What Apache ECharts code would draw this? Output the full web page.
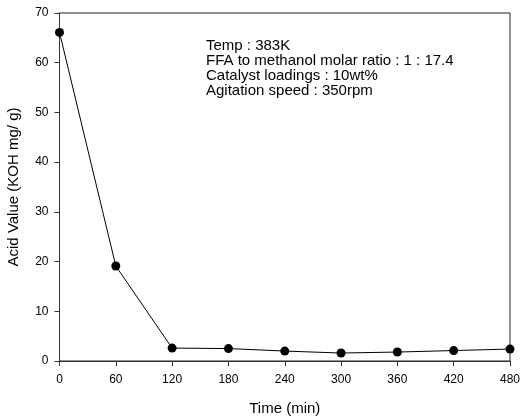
<!DOCTYPE html>
<html>
<head>
<meta charset="utf-8">
<script src="https://cdn.jsdelivr.net/npm/echarts@6/dist/echarts.min.js"></script>
<style>
  html, body { margin: 0; padding: 0; background: #fff; }
  #chart { width: 520px; height: 419px; }
</style>
</head>
<body>
<div id="chart"></div>
<script>
// Reaction time (min) and measured acid value (KOH mg/g)
const timeMin = [0, 60, 120, 180, 240, 300, 360, 420, 480];
const acidValue = [66.1, 19.1, 2.6, 2.5, 2.0, 1.6, 1.8, 2.1, 2.4];
const xTicks = [0, 60, 120, 180, 240, 300, 360, 420, 480];
const yTicks = [0, 10, 20, 30, 40, 50, 60, 70];
const conditions = [
  'Temp : 383K',
  'FFA to methanol molar ratio : 1 : 17.4',
  'Catalyst loadings : 10wt%',
  'Agitation speed : 350rpm'
];

const FONT = '"Liberation Sans", Arial, sans-serif';
const chart = echarts.init(document.getElementById('chart'));

chart.setOption({
  animation: false,
  backgroundColor: '#ffffff',
  textStyle: { fontFamily: FONT },
  grid: {
    left: 59.5, right: 10, top: 13, bottom: 58,
    containLabel: false, outerBoundsMode: 'none',
    show: true, borderColor: '#222', borderWidth: 1
  },
  xAxis: {
    type: 'value',
    min: xTicks[0], max: xTicks[xTicks.length - 1], interval: 60,
    name: 'Time (min)', nameLocation: 'middle', nameGap: 40,
    nameTextStyle: { fontFamily: FONT, fontSize: 15, color: '#000' },
    axisLine: { show: true, lineStyle: { color: '#333', width: 1 } },
    axisTick: { show: true, inside: false, length: 5, lineStyle: { color: '#333' } },
    axisLabel: { fontFamily: FONT, fontSize: 12, color: '#000', margin: 13 },
    splitLine: { show: false }
  },
  yAxis: {
    type: 'value',
    min: yTicks[0], max: yTicks[yTicks.length - 1], interval: 10,
    name: 'Acid Value (KOH mg/ g)', nameLocation: 'middle', nameGap: 38,
    nameTextStyle: { fontFamily: FONT, fontSize: 15, color: '#000' },
    axisLine: { show: true, lineStyle: { color: '#333', width: 1 } },
    axisTick: { show: true, inside: false, length: 5, lineStyle: { color: '#333' } },
    axisLabel: { fontFamily: FONT, fontSize: 12, color: '#000', margin: 11 },
    splitLine: { show: false }
  },
  graphic: [{
    type: 'text',
    left: 206, top: 38,
    style: {
      text: conditions.join('\n'),
      font: '15px ' + FONT,
      lineHeight: 15,
      fill: '#000'
    }
  }],
  series: [{
    type: 'line',
    data: timeMin.map((t, i) => [t, acidValue[i]]),
    symbol: 'circle',
    symbolSize: 9,
    itemStyle: { color: '#000' },
    lineStyle: { color: '#000', width: 1 }
  }]
});
</script>
</body>
</html>
